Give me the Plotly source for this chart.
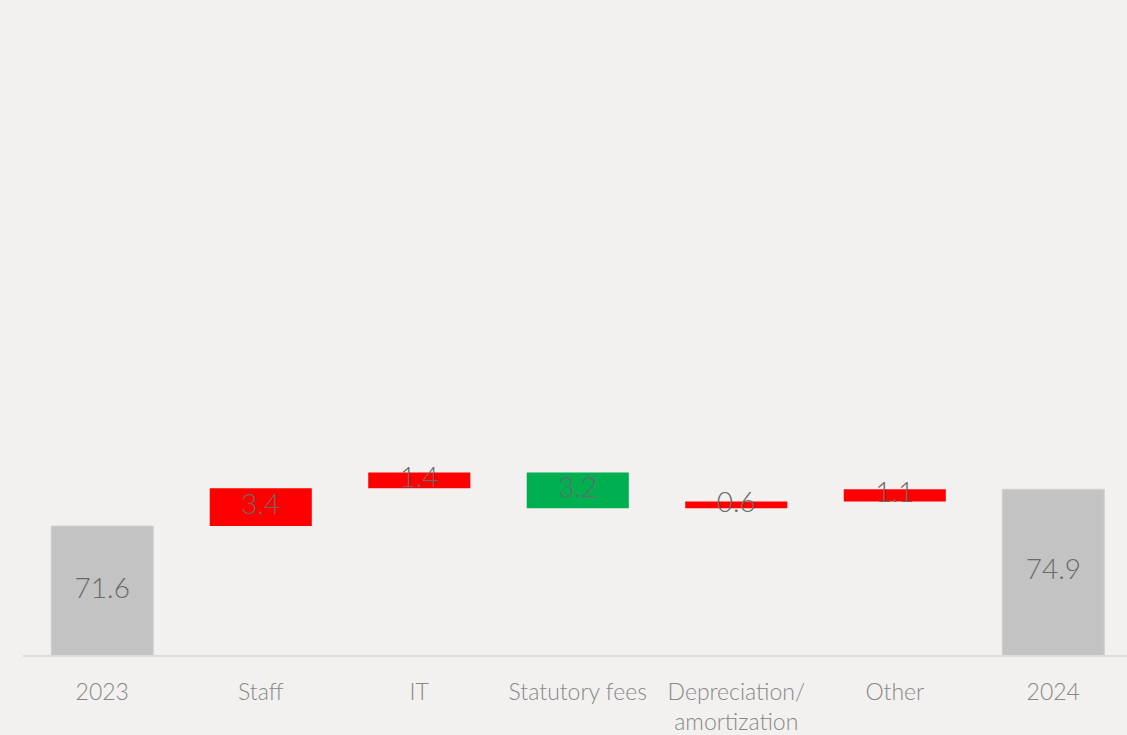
import plotly.graph_objects as go

categories = ["2023", "Staff", "IT", "Statutory fees", "Depreciation/<br>amortization", "Other", "2024"]
measures = ["absolute", "relative", "relative", "relative", "relative", "relative", "total"]
values = [71.6, 3.4, 1.4, -3.2, 0.6, 1.1, 0]
labels = ["71.6", "3.4", "1.4", "3.2", "0.6", "1.1", "74.9"]

Y_MIN = 60
Y_MAX = 118.9

# midpoints of visible bar segments for label placement
mids = []
running = 0.0
for m, v in zip(measures, values):
    if m == "absolute":
        running = v
        mids.append((max(Y_MIN, 0) + v) / 2)
    elif m == "total":
        mids.append((Y_MIN + running) / 2)
    else:
        mids.append(running + v / 2)
        running += v

FONT = "Segoe UI Light, Lato, Open Sans, sans-serif"

fig = go.Figure()
fig.add_trace(go.Waterfall(
    x=categories, y=values, measure=measures,
    increasing=dict(marker=dict(color="#ff0000")),
    decreasing=dict(marker=dict(color="#00b050")),
    totals=dict(marker=dict(color="#c3c3c3", line=dict(color="#d2d2d2", width=1))),
    connector=dict(visible=False),
    width=0.644,
    textposition="none",
    hoverinfo="skip",
))
fig.add_trace(go.Scatter(
    x=categories, y=mids, text=labels, mode="text",
    textposition="middle center",
    textfont=dict(family=FONT, size=28, color="#6a6a6a", weight=300),
    hoverinfo="skip",
))

fig.update_layout(
    width=1127, height=735,
    margin=dict(l=23, r=0, t=0, b=80),
    paper_bgcolor="#f2f1ef", plot_bgcolor="#f2f1ef",
    showlegend=False,
    font=dict(family=FONT, weight=300),
)
fig.update_xaxes(
    range=[-0.5, 6.465],
    showline=True, linecolor="#dcdcdc", linewidth=2,
    showgrid=False, zeroline=False,
    tickfont=dict(family=FONT, size=23, color="#888888", weight=300),
    ticks="", ticklabelstandoff=15,
)
fig.update_yaxes(range=[Y_MIN, Y_MAX], visible=False, showgrid=False, zeroline=False)

fig.write_html(
    "out.html",
    config={"displayModeBar": False},
    post_script="document.body.style.margin='0';document.body.style.background='#f2f1ef';",
)
